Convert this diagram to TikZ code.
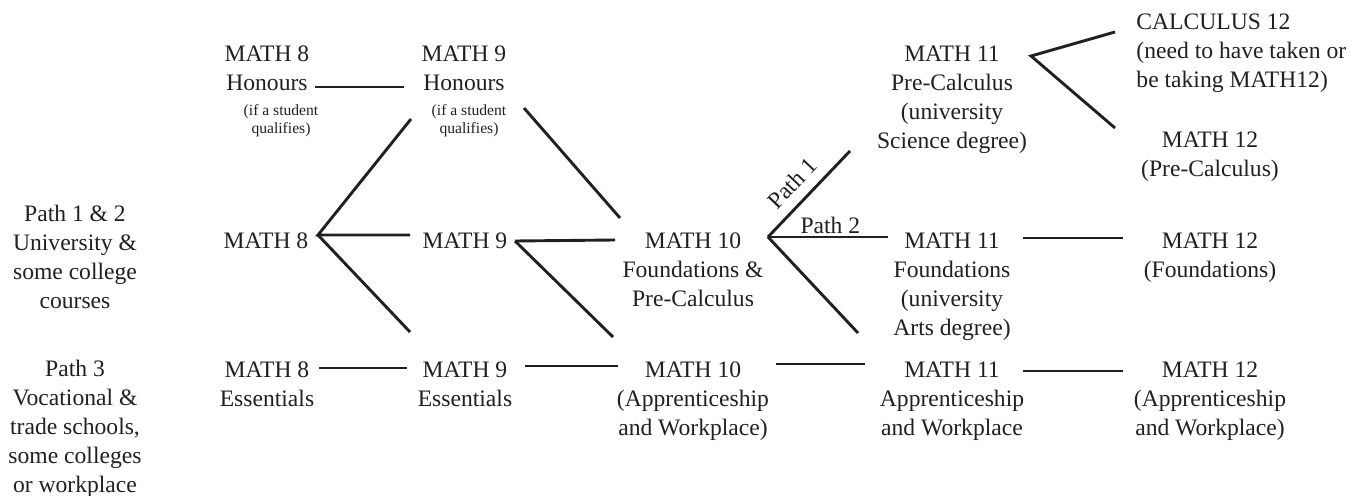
\documentclass[tikz,border=0pt]{standalone}
\usepackage{fontspec}
\setmainfont{Liberation Serif}
\usetikzlibrary{calc}
\definecolor{ink}{HTML}{231F20}

\begin{document}
\begin{tikzpicture}[x=0.5pt, y=-0.5pt, line width=1.45pt, draw=ink, text=ink,
        course/.style = {align=center, inner sep=0pt, font=\fontsize{11.8}{14.5}\selectfont},
        note/.style = {align=center, inner sep=0pt, font=\fontsize{7.8}{9.2}\selectfont},
        pathlbl/.style = {inner sep=1pt, font=\fontsize{11.8}{14.5}\selectfont}]
    \useasboundingbox (0,0) rectangle (1359,496);
    % paths
    \node[course] (p12) at (75,256.5) {Path 1 \& 2\\University \&\\some college\\courses};
    \node[course] (p3) at (75,429) {Path 3\\Vocational \&\\trade schools,\\some colleges\\or workplace};
    % grade 8 and 9
    \node[course] (m8h) at (267,68.5) {MATH 8\\Honours};
    \node[note] (m8hq) at (281,120.5) {(if a student\\qualifies)};
    \node[course] (m9h) at (464,68.5) {MATH 9\\Honours};
    \node[note] (m9hq) at (469,120.5) {(if a student\\qualifies)};
    \node[course] (m8) at (266,241) {MATH 8};
    \node[course] (m9) at (465,241) {MATH 9};
    \node[course] (m8e) at (267,384.5) {MATH 8\\Essentials};
    \node[course] (m9e) at (465,384.5) {MATH 9\\Essentials};
    % grade 10 to 12
    \node[course] (m10f) at (693,269.5) {MATH 10\\Foundations \&\\Pre-Calculus};
    \node[course] (m10a) at (693,401.5) {MATH 10\\(Apprenticeship\\and Workplace)};
    \node[course] (m11p) at (952,99.5) {MATH 11\\Pre-Calculus\\(university\\Science degree)};
    \node[course] (m11f) at (952,287) {MATH 11\\Foundations\\(university\\Arts degree)};
    \node[course] (m11a) at (952,401.5) {MATH 11\\Apprenticeship\\and Workplace};
    \node[course, align=left, anchor=west] (cal12) at (1135,53.5) {CALCULUS 12\\(need to have taken or\\be taking MATH12)};
    \node[course] (m12p) at (1210,157) {MATH 12\\(Pre-Calculus)};
    \node[course] (m12f) at (1210,257.5) {MATH 12\\(Foundations)};
    \node[course] (m12a) at (1210,401.5) {MATH 12\\(Apprenticeship\\and Workplace)};
    % connectors
    \draw ($(m8h)+(48,18.5)$) -- ($(m9h)+(-60,18.5)$);
    \draw ($(m9hq)+(-58,-1.5)$) -- ($(m8)+(52,-6)$) -- ($(m9)+(-55,-6)$);
    \draw ($(m8)+(52,-6)$) -- ($(m9e)+(-55,-52.5)$);
    \draw ($(m9hq)+(55,-12.5)$) -- ($(m10f)+(-73,-51.5)$);
    \draw ($(m9)+(50,0)$) -- ($(m10f)+(-78,-29.5)$);
    \draw ($(m9)+(50,0)$) -- ($(m10a)+(-80,-64.5)$);
    \draw ($(m10f)+(75,-32.5)$) -- node[pathlbl, sloped, above=4pt, pos=.47] {Path 1} ($(m11p)+(-102,51.5)$);
    \draw ($(m10f)+(75,-32.5)$) -- node[pathlbl, above, pos=.52] {Path 2} ($(m11f)+(-64,-50)$);
    \draw ($(m10f)+(75,-32.5)$) -- ($(m11f)+(-94,46)$);
    \draw ($(cal12.west)+(-20,-21.5)$) -- ($(m11p)+(79,-43.5)$) -- ($(m12p)+(-95,-29)$);
    \draw ($(m11f)+(71,-49)$) -- ($(m12f)+(-87,-19.5)$);
    \draw ($(m8e)+(52,-16.5)$) -- ($(m9e)+(-58,-16.5)$);
    \draw ($(m9e)+(60,-18.5)$) -- ($(m10a)+(-75,-35.5)$);
    \draw ($(m10a)+(83,-37.5)$) -- ($(m11a)+(-87,-37.5)$);
    \draw ($(m11a)+(71,-30.5)$) -- ($(m12a)+(-87,-30.5)$);
\end{tikzpicture}
\end{document}
